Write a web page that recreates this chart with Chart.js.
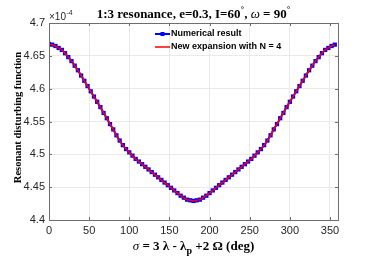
<!DOCTYPE html>
<html>
<head>
<meta charset="utf-8">
<script src="https://cdn.jsdelivr.net/npm/chart.js@4"></script>
<style>
  html, body { margin: 0; padding: 0; background: #fff; }
  #wrap { width: 374px; height: 258px; }
</style>
</head>
<body>
<div id="wrap"><canvas id="c" width="374" height="258"></canvas></div>
<script>
// sigma (deg)
const sigma = [
  0, 4, 8, 12, 16, 20, 24, 28, 32, 36, 40, 44, 48, 52, 56, 60, 64, 68, 72, 76,
  80, 84, 88, 92, 96, 100, 104, 108, 112, 116, 120, 124, 128, 132, 136, 140, 144, 148, 152, 156,
  160, 164, 168, 172, 176, 180, 184, 188, 192, 196, 200, 204, 208, 212, 216, 220, 224, 228, 232, 236,
  240, 244, 248, 252, 256, 260, 264, 268, 272, 276, 280, 284, 288, 292, 296, 300, 304, 308, 312, 316,
  320, 324, 328, 332, 336, 340, 344, 348, 352, 356
];
// resonant disturbing function, x1e-4
const numerical = [
  4.668, 4.667, 4.665, 4.662, 4.659, 4.654, 4.648, 4.642, 4.635, 4.628, 4.620, 4.612, 4.604, 4.596, 4.588, 4.580, 4.572, 4.563, 4.555, 4.546,
  4.538, 4.529, 4.521, 4.514, 4.508, 4.503, 4.498, 4.493, 4.489, 4.485, 4.481, 4.477, 4.473, 4.469, 4.465, 4.461, 4.457, 4.453, 4.449, 4.445,
  4.441, 4.437, 4.434, 4.431, 4.430, 4.429, 4.430, 4.431, 4.434, 4.437, 4.441, 4.445, 4.449, 4.453, 4.457, 4.461, 4.465, 4.469, 4.473, 4.477,
  4.481, 4.485, 4.489, 4.493, 4.498, 4.503, 4.508, 4.514, 4.521, 4.529, 4.538, 4.546, 4.555, 4.563, 4.572, 4.580, 4.588, 4.596, 4.604, 4.612,
  4.620, 4.628, 4.635, 4.642, 4.648, 4.654, 4.659, 4.662, 4.665, 4.667
];
const expansion = numerical.slice();

const xTicks = [0, 50, 100, 150, 200, 250, 300, 350];
const yTicks = [4.4, 4.45, 4.5, 4.55, 4.6, 4.65, 4.7];

const SERIF = '"Liberation Serif", "DejaVu Serif", serif';
const SANS = '"Liberation Sans", Arial, sans-serif';

// draw a run of text pieces, centred on cx
function richText(ctx, parts, cx, y) {
  let w = 0;
  parts.forEach(p => { ctx.font = p.font; w += ctx.measureText(p.t).width; });
  let x = cx - w / 2;
  ctx.textAlign = 'left';
  ctx.textBaseline = 'alphabetic';
  parts.forEach(p => {
    ctx.font = p.font;
    ctx.fillText(p.t, x, y + (p.dy || 0));
    x += ctx.measureText(p.t).width;
  });
}

const decor = {
  id: 'decor',
  afterDraw(chart) {
    const ctx = chart.ctx;
    const a = chart.chartArea;
    const xs = chart.scales.x, ys = chart.scales.y;
    ctx.save();

    // box + inward ticks
    ctx.strokeStyle = '#6e6e6e';
    ctx.lineWidth = 1;
    ctx.strokeRect(Math.round(a.left) + 0.5, Math.round(a.top) + 0.5,
      Math.round(a.right - a.left), Math.round(a.bottom - a.top));
    ctx.beginPath();
    xTicks.forEach(v => {
      const px = Math.round(xs.getPixelForValue(v)) + 0.5;
      ctx.moveTo(px, a.bottom); ctx.lineTo(px, a.bottom - 3);
      ctx.moveTo(px, a.top); ctx.lineTo(px, a.top + 3);
    });
    yTicks.forEach(v => {
      const py = Math.round(ys.getPixelForValue(v)) + 0.5;
      ctx.moveTo(a.left, py); ctx.lineTo(a.left + 3, py);
      ctx.moveTo(a.right, py); ctx.lineTo(a.right - 3, py);
    });
    ctx.stroke();

    ctx.fillStyle = '#000';
    // title
    const tb = 'bold 13px ' + SERIF;
    richText(ctx, [
      { t: '1:3 resonance, e=0.3, I=60', font: tb },
      { t: '°', font: 'bold 9px ' + SERIF, dy: -6 },
      { t: ', ', font: tb },
      { t: 'ω', font: 'italic 13px ' + SERIF },
      { t: ' = 90', font: tb },
      { t: '°', font: 'bold 9px ' + SERIF, dy: -6 }
    ], (a.left + a.right) / 2, 18);

    // x axis title
    const xb = 'bold 13px ' + SERIF;
    richText(ctx, [
      { t: 'σ', font: 'italic 13px ' + SERIF },
      { t: ' = 3 λ - λ', font: xb },
      { t: 'p', font: 'bold 10px ' + SERIF, dy: 4 },
      { t: ' +2 Ω (deg)', font: xb }
    ], (a.left + a.right) / 2, 250);

    // y axis title
    ctx.save();
    ctx.translate(18, (a.top + a.bottom) / 2 - 4);
    ctx.rotate(-Math.PI / 2);
    ctx.font = 'bold 10.5px ' + SERIF;
    ctx.textAlign = 'center';
    ctx.textBaseline = 'middle';
    ctx.fillText('Resonant disturbing function', 0, 0);
    ctx.restore();

    // exponent
    ctx.fillStyle = '#262626';
    ctx.textAlign = 'left';
    ctx.textBaseline = 'alphabetic';
    ctx.font = '10px ' + SANS;
    ctx.fillText('×10', a.left, 20);
    const ew = ctx.measureText('×10').width;
    ctx.font = '7px ' + SANS;
    ctx.fillText('-4', a.left + ew + 0.5, 15);

    // legend
    const lx = 155, ly1 = 34, ly2 = 47;
    ctx.strokeStyle = '#0000ff';
    ctx.lineWidth = 2;
    ctx.beginPath(); ctx.moveTo(lx, ly1); ctx.lineTo(lx + 15, ly1); ctx.stroke();
    ctx.fillStyle = '#0000ff';
    ctx.fillRect(lx + 7.5 - 2, ly1 - 2, 4, 4);
    ctx.strokeStyle = '#ff0000';
    ctx.lineWidth = 1.5;
    ctx.beginPath(); ctx.moveTo(lx, ly2); ctx.lineTo(lx + 15, ly2); ctx.stroke();
    ctx.fillStyle = '#000';
    ctx.font = 'bold 9px ' + SANS;
    ctx.textBaseline = 'middle';
    ctx.fillText('Numerical result', lx + 16, ly1);
    ctx.fillText('New expansion with N = 4', lx + 16, ly2);

    ctx.restore();
  }
};

new Chart(document.getElementById('c'), {
  type: 'line',
  data: {
    datasets: [
      {
        label: 'New expansion with N = 4',
        data: sigma.map((s, i) => ({ x: s, y: expansion[i] })),
        borderColor: '#ff0000',
        borderWidth: 1.5,
        pointRadius: 0,
        tension: 0.3,
        order: 0
      },
      {
        label: 'Numerical result',
        data: sigma.map((s, i) => ({ x: s, y: numerical[i] })),
        borderColor: '#0000ff',
        backgroundColor: '#0000ff',
        borderWidth: 2,
        pointStyle: 'rect',
        pointRadius: 3,
        pointBorderWidth: 0,
        pointBackgroundColor: '#0000ff',
        tension: 0.3,
        order: 1
      }
    ]
  },
  options: {
    responsive: false,
    animation: false,
    devicePixelRatio: 1,
    layout: { padding: { left: 0, right: 36, top: 23, bottom: 0 } },
    plugins: { legend: { display: false }, title: { display: false }, tooltip: { enabled: false } },
    scales: {
      x: {
        type: 'linear',
        min: 0, max: 360,
        afterBuildTicks: s => { s.ticks = xTicks.map(v => ({ value: v })); },
        afterFit: s => { s.height = 38; },
        grid: { color: '#e9e9e9', drawTicks: false },
        border: { display: false },
        ticks: { color: '#262626', font: { family: SANS, size: 11 }, padding: 4, maxRotation: 0 }
      },
      y: {
        type: 'linear',
        min: 4.4, max: 4.7,
        afterBuildTicks: s => { s.ticks = yTicks.map(v => ({ value: v })); },
        afterFit: s => { s.width = 49; },
        grid: { color: '#e9e9e9', drawTicks: false },
        border: { display: false },
        ticks: {
          color: '#262626', font: { family: SANS, size: 11 }, padding: 4,
          callback: v => String(parseFloat(v.toFixed(2)))
        }
      }
    }
  },
  plugins: [decor]
});
</script>
</body>
</html>
